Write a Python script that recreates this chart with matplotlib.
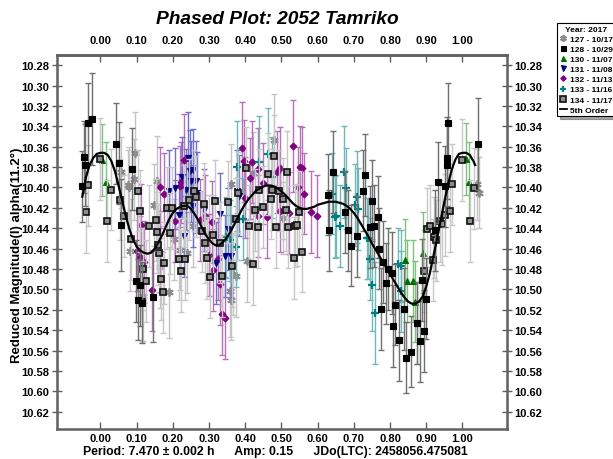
import matplotlib
matplotlib.use("Agg")
import matplotlib.pyplot as plt
from matplotlib.lines import Line2D

plt.rcParams['font.family'] = ['Liberation Sans', 'DejaVu Sans']
plt.rcParams['font.weight'] = 'bold'

# ---- lightcurve sessions: phase, reduced magnitude, error ----
s127_phase = [0.056, 0.076, 0.079, 0.092, 0.095, 0.082, 0.117, 0.147, 0.155, 0.165, 0.188, 0.202,
              0.220, 0.238, 0.257, 0.300, 0.358, 0.360, 0.362, 0.367, 0.374, 0.404, 0.421, 0.421,
              0.479, 0.503, 1.039, 1.046]
s127_mag = [10.385, 10.398, 10.400, 10.392, 10.366, 10.462, 10.506, 10.417, 10.394, 10.478, 10.503, 10.451,
            10.461, 10.464, 10.438, 10.447, 10.502, 10.510, 10.397, 10.485, 10.487, 10.472, 10.386, 10.438,
            10.353, 10.430, 10.397, 10.405]
s127_err = [0.035, 0.035, 0.040, 0.040, 0.040, 0.040, 0.045, 0.040, 0.045, 0.040, 0.045, 0.040,
            0.040, 0.040, 0.040, 0.040, 0.045, 0.040, 0.040, 0.040, 0.040, 0.040, 0.040, 0.035,
            0.045, 0.035, 0.035, 0.035]

s128_phase = [-0.051, -0.046, -0.042, -0.035, -0.022, 0.044, 0.052, 0.057, 0.088, 0.098, 0.109, 0.105,
              0.116, 0.146, 0.629, 0.643, 0.632, 0.675, 0.685, 0.692, 0.709, 0.726, 0.731, 0.751,
              0.744, 0.755, 0.766, 0.770, 0.775, 0.781, 0.789, 0.795, 0.804, 0.809, 0.815, 0.825,
              0.838, 0.844, 0.857, 0.874, 0.883, 0.887, 0.895, 0.898, 0.924, 0.933, 0.952, 0.958,
              0.956, 0.961, 1.044]
s128_mag = [10.399, 10.370, 10.378, 10.337, 10.333, 10.357, 10.376, 10.437, 10.382, 10.492, 10.496, 10.510,
            10.513, 10.507, 10.407, 10.385, 10.442, 10.424, 10.442, 10.457, 10.448, 10.403, 10.388, 10.413,
            10.439, 10.438, 10.429, 10.460, 10.519, 10.473, 10.494, 10.480, 10.484, 10.536, 10.515, 10.550,
            10.519, 10.567, 10.561, 10.533, 10.551, 10.491, 10.541, 10.509, 10.442, 10.395, 10.399, 10.378,
            10.371, 10.337, 10.357]
s128_err = [0.035, 0.035, 0.040, 0.040, 0.045, 0.040, 0.040, 0.045, 0.040, 0.040, 0.040, 0.040,
            0.040, 0.045, 0.040, 0.040, 0.040, 0.040, 0.040, 0.040, 0.040, 0.040, 0.040, 0.040,
            0.040, 0.040, 0.040, 0.040, 0.040, 0.040, 0.040, 0.040, 0.040, 0.040, 0.040, 0.040,
            0.040, 0.035, 0.035, 0.040, 0.040, 0.040, 0.040, 0.040, 0.040, 0.040, 0.040, 0.040,
            0.040, 0.040, 0.045]

s130_phase = [0.004, 0.016, 0.841, 0.848, 0.864, 0.869, 0.875, 0.890, 1.010, 1.019]
s130_mag = [10.373, 10.395, 10.471, 10.492, 10.492, 10.512, 10.533, 10.464, 10.372, 10.395]
s130_err = [0.035, 0.040, 0.040, 0.040, 0.040, 0.040, 0.040, 0.040, 0.035, 0.040]

s131_phase = [0.190, 0.207, 0.216, 0.230, 0.241, 0.246, 0.257, 0.250, 0.265, 0.266, 0.256, 0.225,
              0.237, 0.286, 0.319, 0.330, 0.344, 0.353, 0.362, 0.378, 0.384]
s131_mag = [10.403, 10.401, 10.427, 10.448, 10.371, 10.384, 10.383, 10.394, 10.394, 10.405, 10.418, 10.390,
            10.402, 10.422, 10.474, 10.426, 10.467, 10.441, 10.467, 10.403, 10.408]
s131_err = [0.040, 0.040, 0.040, 0.040, 0.045, 0.040, 0.040, 0.040, 0.040, 0.040, 0.040, 0.040,
            0.040, 0.040, 0.040, 0.040, 0.040, 0.040, 0.040, 0.040, 0.040]

s132_phase = [0.101, 0.108, 0.112, 0.121, 0.142, 0.165, 0.165, 0.176, 0.207, 0.219, 0.222, 0.230,
              0.276, 0.290, 0.301, 0.307, 0.312, 0.326, 0.330, 0.337, 0.344, 0.392, 0.397, 0.399,
              0.413, 0.419, 0.434, 0.436, 0.450, 0.459, 0.487, 0.496, 0.496, 0.521, 0.533, 0.545,
              0.551, 0.556, 0.562, 0.581, 0.599]
s132_mag = [10.462, 10.468, 10.437, 10.473, 10.501, 10.400, 10.463, 10.406, 10.433, 10.399, 10.395, 10.373,
            10.432, 10.428, 10.466, 10.434, 10.481, 10.470, 10.495, 10.524, 10.528, 10.361, 10.374, 10.410,
            10.391, 10.375, 10.382, 10.428, 10.396, 10.429, 10.385, 10.381, 10.423, 10.425, 10.359, 10.400,
            10.380, 10.381, 10.406, 10.424, 10.428]
s132_err = [0.040, 0.040, 0.040, 0.040, 0.040, 0.040, 0.040, 0.040, 0.040, 0.040, 0.040, 0.045,
            0.040, 0.040, 0.040, 0.040, 0.040, 0.040, 0.040, 0.040, 0.040, 0.045, 0.040, 0.040,
            0.040, 0.040, 0.040, 0.040, 0.040, 0.040, 0.040, 0.040, 0.040, 0.040, 0.045, 0.040,
            0.040, 0.040, 0.040, 0.040, 0.040]

s133_phase = [0.348, 0.358, 0.374, 0.376, 0.378, 0.394, 0.439, 0.464, 0.473, 0.639, 0.648, 0.651,
              0.662, 0.673, 0.677, 0.704, 0.708, 0.712, 0.735, 0.740, 0.745, 0.749, 0.758, 0.823,
              0.830, 0.829]
s133_mag = [10.449, 10.452, 10.458, 10.380, 10.431, 10.431, 10.375, 10.367, 10.390, 10.406, 10.429, 10.428,
            10.438, 10.385, 10.401, 10.417, 10.409, 10.421, 10.450, 10.450, 10.470, 10.496, 10.523, 10.475,
            10.477, 10.502]
s133_err = [0.040, 0.040, 0.040, 0.045, 0.040, 0.040, 0.045, 0.045, 0.040, 0.040, 0.040, 0.040,
            0.040, 0.045, 0.040, 0.040, 0.045, 0.040, 0.040, 0.040, 0.040, 0.045, 0.050, 0.035,
            0.035, 0.040]

s134_phase = [-0.040, -0.033, -0.002, 0.018, 0.029, 0.055, 0.064, 0.084, 0.104, 0.110, 0.117, 0.125,
              0.115, 0.133, 0.153, 0.156, 0.159, 0.163, 0.168, 0.174, 0.176, 0.184, 0.193, 0.198,
              0.218, 0.222, 0.230, 0.234, 0.245, 0.259, 0.264, 0.280, 0.285, 0.289, 0.293, 0.304,
              0.312, 0.316, 0.330, 0.337, 0.353, 0.364, 0.374, 0.381, 0.401, 0.410, 0.422, 0.428,
              0.434, 0.438, 0.450, 0.464, 0.470, 0.475, 0.479, 0.485, 0.493, 0.505, 0.512, 0.516,
              0.519, 0.537, 0.544, 0.548, 0.536, 0.556, 0.894, 0.903, 0.910, 0.919, 0.921, 0.926,
              0.938, 0.943, 0.952, 0.966, 0.970, 1.000, 1.021, 1.031]
s134_mag = [10.424, 10.398, 10.372, 10.433, 10.402, 10.412, 10.428, 10.451, 10.403, 10.423, 10.480, 10.492,
            10.512, 10.438, 10.432, 10.444, 10.456, 10.464, 10.490, 10.503, 10.474, 10.420, 10.445, 10.420,
            10.470, 10.482, 10.418, 10.470, 10.412, 10.403, 10.409, 10.443, 10.416, 10.454, 10.469, 10.488,
            10.447, 10.413, 10.454, 10.487, 10.414, 10.477, 10.431, 10.405, 10.381, 10.438, 10.475, 10.422,
            10.439, 10.402, 10.419, 10.387, 10.411, 10.402, 10.369, 10.439, 10.403, 10.411, 10.422, 10.385,
            10.439, 10.438, 10.437, 10.424, 10.469, 10.463, 10.482, 10.441, 10.438, 10.471, 10.449, 10.452,
            10.433, 10.436, 10.427, 10.423, 10.397, 10.373, 10.433, 10.401]
s134_err = [0.040] * len(s134_phase)

# 5th-order Fourier fit, sampled in phase
fit_phase = [-0.05, -0.04, -0.03, -0.02, -0.01, 0.00, 0.01, 0.02, 0.03, 0.04, 0.05, 0.06, 0.07, 0.08, 0.09,
             0.10, 0.11, 0.12, 0.13, 0.14, 0.15, 0.16, 0.17, 0.18, 0.19, 0.20, 0.21, 0.22, 0.23, 0.24,
             0.25, 0.26, 0.27, 0.28, 0.29, 0.30, 0.31, 0.32, 0.33, 0.34, 0.35, 0.36, 0.37, 0.38, 0.39,
             0.40, 0.41, 0.42, 0.43, 0.44, 0.45, 0.46, 0.47, 0.48, 0.49, 0.50, 0.51, 0.52, 0.53, 0.54,
             0.55, 0.56, 0.57, 0.58, 0.59, 0.60, 0.61, 0.62, 0.63, 0.64, 0.65, 0.66, 0.67, 0.68, 0.69,
             0.70, 0.71, 0.72, 0.73, 0.74, 0.75, 0.76, 0.77, 0.78, 0.79, 0.80, 0.81, 0.82, 0.83, 0.84,
             0.85, 0.86, 0.87, 0.88, 0.89, 0.90, 0.91, 0.92, 0.93, 0.94, 0.95, 0.96, 0.97, 0.98, 0.99,
             1.00, 1.01, 1.02, 1.03, 1.035]
fit_mag = [10.409, 10.390, 10.378, 10.371, 10.367, 10.366, 10.366, 10.368, 10.374, 10.384, 10.398, 10.413,
           10.428, 10.441, 10.451, 10.458, 10.462, 10.464, 10.465, 10.464, 10.460, 10.454, 10.447, 10.439,
           10.431, 10.425, 10.421, 10.419, 10.418, 10.418, 10.421, 10.426, 10.432, 10.439, 10.446, 10.451,
           10.455, 10.457, 10.456, 10.453, 10.449, 10.443, 10.436, 10.429, 10.422, 10.416, 10.411, 10.407,
           10.403, 10.401, 10.399, 10.398, 10.398, 10.399, 10.401, 10.404, 10.407, 10.411, 10.415, 10.418,
           10.420, 10.421, 10.421, 10.420, 10.419, 10.417, 10.416, 10.415, 10.414, 10.414, 10.414, 10.415,
           10.416, 10.418, 10.421, 10.425, 10.430, 10.436, 10.442, 10.448, 10.455, 10.461, 10.467, 10.473,
           10.479, 10.485, 10.491, 10.497, 10.503, 10.508, 10.512, 10.514, 10.514, 10.512, 10.507, 10.497,
           10.484, 10.467, 10.450, 10.432, 10.414, 10.397, 10.383, 10.373, 10.367, 10.366, 10.366, 10.368,
           10.374, 10.378]

x_ticks = [0.0, 0.1, 0.2, 0.3, 0.4, 0.5, 0.6, 0.7, 0.8, 0.9, 1.0]
y_ticks = [10.28, 10.30, 10.32, 10.34, 10.36, 10.38, 10.40, 10.42, 10.44, 10.46, 10.48, 10.50,
           10.52, 10.54, 10.56, 10.58, 10.60, 10.62]
x_labels = [f"{t:.2f}" for t in x_ticks]
y_labels = [f"{t:.2f}" for t in y_ticks]

sessions = [
    # phase, mag, err, label, marker, face, edge, size, edge width, errorbar colour, zorder
    (s127_phase, s127_mag, s127_err, "127 - 10/17", (6, 2, 0), "#8c8c8c", "#8c8c8c", 6, 1.3, "#c4c4c4", 3),
    (s132_phase, s132_mag, s132_err, "132 - 11/13", "D", "#800080", "#800080", 3.5, 0.8, "#b870b8", 4),
    (s131_phase, s131_mag, s131_err, "131 - 11/08", "v", "#000080", "#000080", 4.5, 0.8, "#7070c8", 4),
    (s133_phase, s133_mag, s133_err, "133 - 11/16", "+", "#008080", "#008080", 6, 1.6, "#70b8b8", 4),
    (s130_phase, s130_mag, s130_err, "130 - 11/07", "^", "#007000", "#007000", 4.5, 0.8, "#80c080", 5),
    (s134_phase, s134_mag, s134_err, "134 - 11/17", "s", "#8e8e8e", "#101010", 5.0, 1.2, "#c8c8c8", 6),
    (s128_phase, s128_mag, s128_err, "128 - 10/29", "s", "#000000", "#000000", 4.5, 0.8, "#707070", 7),
]

fig = plt.figure(figsize=(6.13, 4.60), dpi=100)
ax = fig.add_axes([57 / 613, 30 / 460, 450 / 613, 374 / 460])

for ph, mg, er, lab, mk, fc, ec, ms, mew, ecol, z in sessions:
    ax.errorbar(ph, mg, yerr=er, fmt='none', ecolor=ecol, elinewidth=1.0,
                capsize=2.2, capthick=1.0, zorder=z - 0.5)
    ax.plot(ph, mg, linestyle='none', marker=mk, markersize=ms, markerfacecolor=fc,
            markeredgecolor=ec, markeredgewidth=mew, zorder=z)

ax.plot(fit_phase, fit_mag, color='black', linewidth=1.6, zorder=6.5)

ax.set_xlim(-0.120, 1.123)
ax.set_ylim(10.637, 10.270)

frame_col = '#606060'

# bottom phase axis
ax.set_xticks(x_ticks)
ax.set_xticklabels(x_labels, fontweight='bold')
ax.tick_params(axis='x', direction='in', length=5, width=1, color=frame_col,
               top=False, labeltop=False, bottom=True, labelbottom=True,
               labelsize=8, pad=3)

# top phase axis
ax_top = ax.secondary_xaxis('top')
ax_top.set_xticks(x_ticks)
ax_top.set_xticklabels(x_labels, fontweight='bold')
ax_top.tick_params(axis='x', direction='in', length=5, width=1, color=frame_col,
                   labelsize=8, pad=7)
ax_top.spines['top'].set_color(frame_col)
ax_top.spines['top'].set_linewidth(1.8)

# magnitude axes, both sides
ax.set_yticks(y_ticks)
ax.set_yticklabels(y_labels, fontweight='bold')
ax.tick_params(axis='y', direction='inout', length=7, width=1, color=frame_col,
               left=True, right=True, labelleft=True, labelright=True,
               labelsize=8, pad=2)

for sp in ax.spines.values():
    sp.set_color(frame_col)
    sp.set_linewidth(1.8)

fig.text(277 / 613, 1 - 20 / 460, "Phased Plot: 2052 Tamriko", ha='center', va='center',
         fontsize=13.8, fontweight='bold', fontstyle='italic')
fig.text(17 / 613, 1 - 255 / 460, "Reduced Magnitude(I) alpha(11.2°)", rotation=90,
         ha='center', va='center', fontsize=9.5, fontweight='bold')
fig.text(275 / 613, 1 - 452 / 460,
         "Period: 7.470 ± 0.002 h      Amp: 0.15      JDo(LTC): 2458056.475081",
         ha='center', va='center', fontsize=8.8, fontweight='bold')

# legend
order = [0, 6, 4, 2, 1, 3, 5]
handles = []
for i in order:
    ph, mg, er, lab, mk, fc, ec, ms, mew, ecol, z = sessions[i]
    handles.append(Line2D([], [], linestyle='none', marker=mk, markersize=ms * 0.8,
                          markerfacecolor=fc, markeredgecolor=ec, markeredgewidth=mew, label=lab))
handles.append(Line2D([], [], color='black', linewidth=1.3, label="5th Order"))
leg = fig.legend(handles=handles, loc='upper left', bbox_to_anchor=(557 / 613, 1 - 24 / 460),
                 title="Year: 2017", fontsize=6, title_fontsize=6, frameon=True,
                 fancybox=False, shadow=True, handlelength=0.9, handletextpad=0.3,
                 borderpad=0.3, labelspacing=0.28, borderaxespad=0.0, markerscale=1.0)
leg.get_frame().set_edgecolor('black')
leg.get_frame().set_linewidth(0.8)
for txt in leg.get_texts():
    txt.set_fontweight('bold')
leg.get_title().set_fontweight('bold')

fig.savefig("out.png", dpi=100)
